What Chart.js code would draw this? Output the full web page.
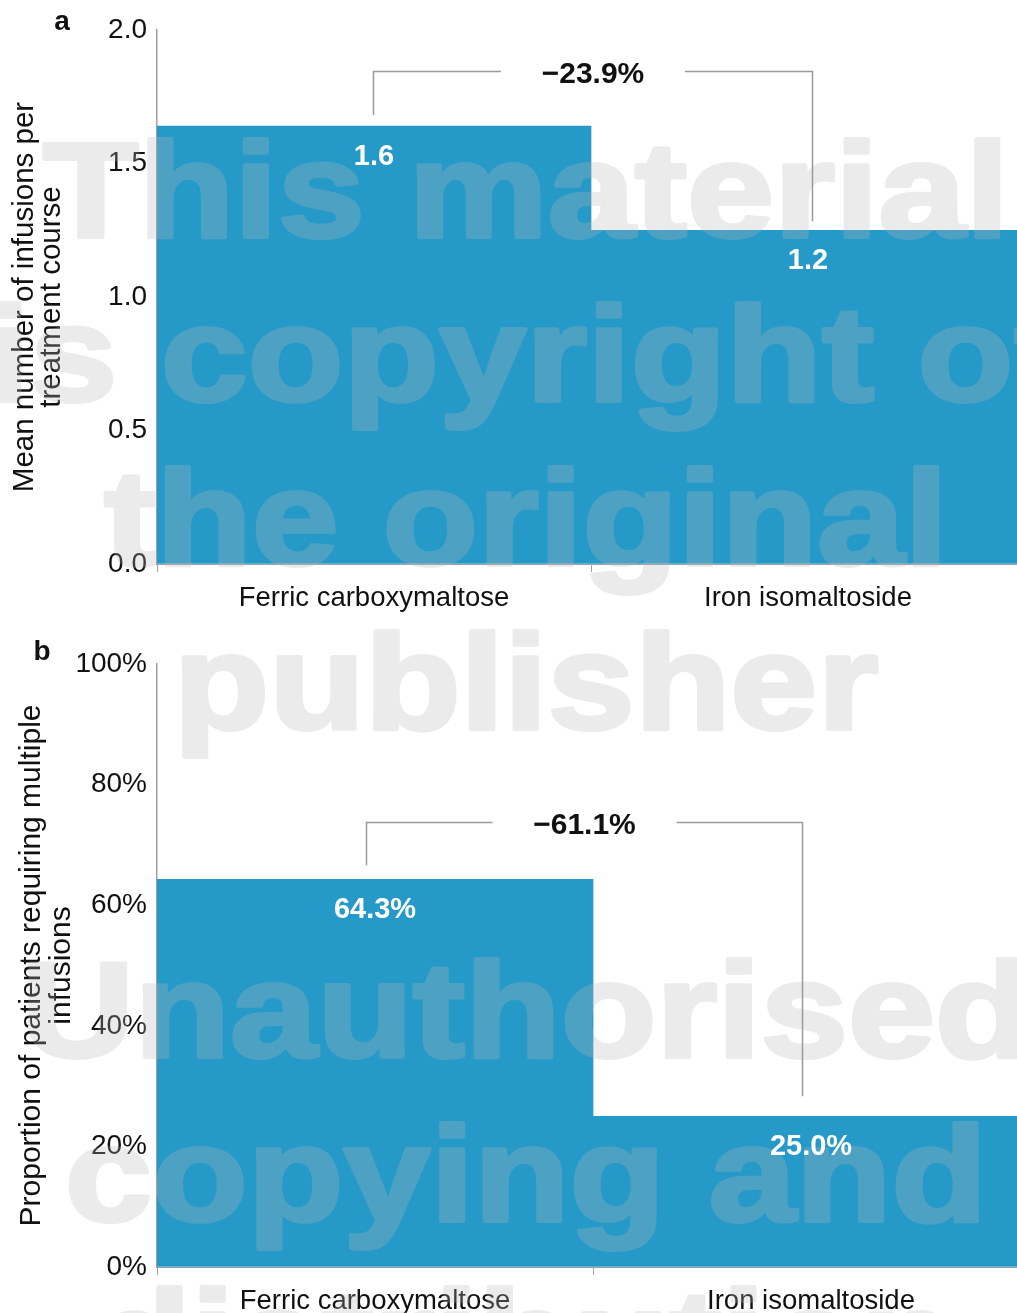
<!DOCTYPE html>
<html>
<head>
<meta charset="utf-8">
<script src="https://cdn.jsdelivr.net/npm/chart.js@4.4.1/dist/chart.umd.min.js"></script>
<style>
  html, body { margin: 0; padding: 0; background: #fff; overflow: hidden; }
  #page { position: relative; width: 1017px; height: 1313px; overflow: hidden; }
  .panel { position: absolute; left: 0; }
  #panel-a { top: 0; }
  #panel-b { top: 620px; }
</style>
</head>
<body>
<div id="page">
  <div class="panel" id="panel-a"><canvas id="chartA" width="1025" height="620"></canvas></div>
  <div class="panel" id="panel-b"><canvas id="chartB" width="1029" height="693"></canvas></div>
</div>
<script>
// データ
const categories = ['Ferric carboxymaltose', 'Iron isomaltoside'];

// a: 治療コースあたりの平均投与回数
const infusionsPerCourse = [1.64, 1.25];
const infusionsLabels = ['1.6', '1.2'];
const infusionsChange = '\u221223.9%';
const infusionsTicks = [0, 0.5, 1.0, 1.5, 2.0];

// b: 複数回投与が必要だった患者の割合（%）
const multipleInfusionsPct = [64.3, 25.0];
const multipleLabels = ['64.3%', '25.0%'];
const multipleChange = '\u221261.1%';
const pctTicks = [0, 20, 40, 60, 80, 100];

// 透かし文字
const watermarkLines = ['This material', 'is copyright of', 'the original', 'publisher', '',
  'Unauthorised', 'copying and', 'distribution'];

// スタイル
const FONT = '"Liberation Sans", Arial, Helvetica, sans-serif';
const BAR_COLOR = '#2599c8';
const AXIS_GRAY = '#a0a0a0';
const BRACKET_GRAY = '#9a9a9a';
const TEXT_COLOR = '#111';

// 透かし（棒の上、文字の下）
// 太く見せるため別キャンバスに不透明で描いてから半透明で重ねる
const watermarkPlugin = {
  id: 'watermark',
  afterDatasetsDraw(chart) {
    const offsetTop = chart.options.plugins.panelDecor.pageTop;
    const off = document.createElement('canvas');
    off.width = chart.width;
    off.height = chart.height;
    const octx = off.getContext('2d');
    octx.font = 'bold 135px ' + FONT;
    octx.fillStyle = '#b6b6b6';
    octx.strokeStyle = '#b6b6b6';
    octx.lineWidth = 4;
    octx.lineJoin = 'round';
    octx.textAlign = 'center';
    octx.textBaseline = 'alphabetic';
    watermarkLines.forEach((line, i) => {
      if (!line) return;
      const y = 237 + i * 164 - offsetTop;
      octx.save();
      octx.translate(526, y);
      octx.scale(1.16, 1);
      octx.fillText(line, 0, 0);
      octx.strokeText(line, 0, 0);
      octx.restore();
    });
    const ctx = chart.ctx;
    ctx.save();
    ctx.globalAlpha = 0.28;
    ctx.drawImage(off, 0, 0);
    ctx.restore();
  }
};

// パネル記号・棒の値・差分ブラケット
const panelDecorPlugin = {
  id: 'panelDecor',
  afterDraw(chart, args, opts) {
    const ctx = chart.ctx;
    const bars = chart.getDatasetMeta(0).data;
    const yScale = chart.scales.y;

    ctx.save();
    // パネル記号
    ctx.fillStyle = TEXT_COLOR;
    ctx.font = 'bold 28px ' + FONT;
    ctx.textAlign = 'center';
    ctx.textBaseline = 'middle';
    ctx.fillText(opts.letter, opts.letterX, opts.letterY);

    // 棒の値
    ctx.fillStyle = '#ffffff';
    ctx.font = 'bold 29px ' + FONT;
    bars.forEach((bar, i) => {
      ctx.fillText(opts.valueLabels[i], bar.x, bar.y + 31);
    });

    // ブラケット
    const yB = Math.round(yScale.getPixelForValue(opts.bracketLevel)) + 0.5;
    const xL = Math.round(bars[0].x + opts.dxLeft) + 0.5;
    const xR = Math.round(bars[1].x + opts.dxRight) + 0.5;
    const xMid = (xL + xR) / 2;
    ctx.strokeStyle = BRACKET_GRAY;
    ctx.lineWidth = 1.5;
    ctx.beginPath();
    ctx.moveTo(xL, bars[0].y - opts.gapLeft);
    ctx.lineTo(xL, yB);
    ctx.lineTo(xMid - 92, yB);
    ctx.moveTo(xMid + 92, yB);
    ctx.lineTo(xR, yB);
    ctx.lineTo(xR, bars[1].y - opts.gapRight);
    ctx.stroke();

    ctx.fillStyle = TEXT_COLOR;
    ctx.font = 'bold 30px ' + FONT;
    ctx.fillText(opts.change, xMid, yB + 3);
    ctx.restore();
  }
};

function makeChart(id, cfg) {
  return new Chart(document.getElementById(id), {
    type: 'bar',
    data: {
      labels: categories,
      datasets: [{
        data: cfg.values,
        backgroundColor: BAR_COLOR,
        borderWidth: 0,
        barPercentage: 1,
        categoryPercentage: 1
      }]
    },
    options: {
      responsive: false,
      animation: false,
      devicePixelRatio: 1,
      layout: { padding: { top: cfg.padTop, right: 0, bottom: 0, left: 0 } },
      plugins: {
        legend: { display: false },
        tooltip: { enabled: false },
        panelDecor: cfg.decor
      },
      scales: {
        x: {
          grid: { offset: true, drawOnChartArea: false, drawTicks: true, tickLength: 8, color: AXIS_GRAY },
          border: { display: true, color: AXIS_GRAY, width: 1 },
          ticks: { color: TEXT_COLOR, font: { family: FONT, size: 27.5 }, padding: 10, maxRotation: 0 },
          afterFit: (scale) => { scale.height = cfg.xHeight; }
        },
        y: {
          min: 0,
          max: cfg.ticks[cfg.ticks.length - 1],
          afterBuildTicks: (scale) => { scale.ticks = cfg.ticks.map(v => ({ value: v })); },
          grid: { display: true, drawOnChartArea: false, drawTicks: false },
          border: { display: true, color: AXIS_GRAY, width: 1.5 },
          ticks: { color: TEXT_COLOR, font: { family: FONT, size: 28 }, padding: 10, callback: cfg.fmt },
          title: {
            display: true,
            text: cfg.title,
            color: TEXT_COLOR,
            font: { family: FONT, size: cfg.titleSize, lineHeight: cfg.titleLineHeight },
            padding: { top: cfg.titlePad, bottom: 0 }
          },
          afterFit: (scale) => { scale.width = 157; }
        }
      }
    },
    plugins: [watermarkPlugin, panelDecorPlugin]
  });
}

makeChart('chartA', {
  values: infusionsPerCourse,
  ticks: infusionsTicks,
  fmt: (v) => Number(v).toFixed(1),
  title: ['Mean number of infusions per', 'treatment course'],
  titleSize: 29.5,
  titleLineHeight: 0.93,
  titlePad: 11,
  padTop: 30,
  xHeight: 56,
  decor: {
    pageTop: 0,
    letter: 'a', letterX: 62, letterY: 22,
    valueLabels: infusionsLabels,
    change: infusionsChange,
    bracketLevel: 1.846,
    dxLeft: -1, dxRight: 4,
    gapLeft: 11, gapRight: 9
  }
});

makeChart('chartB', {
  values: multipleInfusionsPct,
  ticks: pctTicks,
  fmt: (v) => v + '%',
  title: ['Proportion of patients requiring multiple', 'infusions'],
  titleSize: 30,
  titleLineHeight: 1.0,
  titlePad: 17,
  padTop: 44,
  xHeight: 46,
  decor: {
    pageTop: 620,
    letter: 'b', letterX: 42, letterY: 32,
    valueLabels: multipleLabels,
    change: multipleChange,
    bracketLevel: 73.8,
    dxLeft: -9, dxRight: -9,
    gapLeft: 14, gapRight: 20
  }
});
</script>
</body>
</html>
